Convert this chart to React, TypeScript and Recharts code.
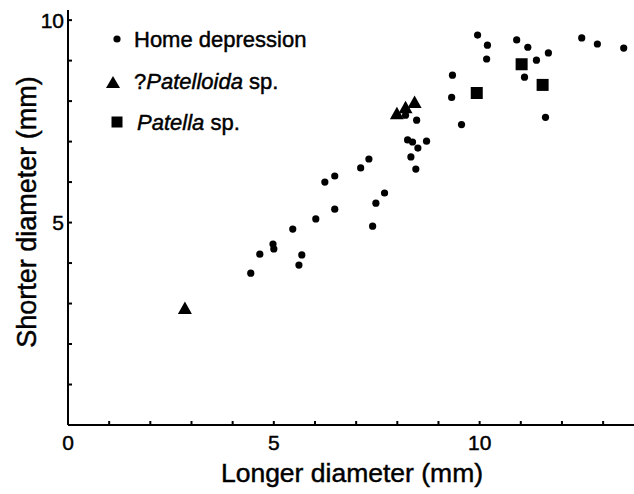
import React from 'react';
import { ScatterChart, Scatter, XAxis, YAxis, Legend } from 'recharts';

const FONT = '"Liberation Sans", Arial, Helvetica, sans-serif';
const TXT = { fontFamily: FONT, fill: '#000', stroke: '#000', strokeWidth: 0.45 } as const;

// Home depression (dots)
const homeLonger = [
  4.44, 4.66, 4.98, 5.0, 5.46, 5.61, 5.68, 6.02, 6.24, 6.48,
  6.48, 7.11, 7.31, 7.4, 7.48, 7.69, 8.2, 8.47, 8.25, 8.37,
  8.71, 8.5, 8.33, 8.45, 9.32, 9.34, 9.56, 9.95, 10.19, 10.17,
  10.9, 11.17, 11.67, 11.38, 11.09, 11.6, 12.48, 12.86, 13.5,
];
const homeShorter = [
  3.75, 4.22, 4.47, 4.35, 4.84, 3.95, 4.2, 5.09, 6.0, 6.15,
  5.33, 6.35, 6.57, 4.91, 5.48, 5.73, 7.65, 7.53, 7.04, 6.99,
  7.01, 6.84, 6.62, 6.32, 8.09, 8.64, 7.42, 9.63, 9.38, 9.04,
  9.51, 9.33, 9.19, 9.01, 8.59, 7.6, 9.56, 9.41, 9.31,
];

// ?Patelloida sp. (triangles)
const patelloidaLonger = [2.84, 7.99, 8.2, 8.42];
const patelloidaShorter = [2.89, 7.7, 7.85, 7.98];

// Patella sp. (squares)
const patellaLonger = [9.93, 11.02, 11.53];
const patellaShorter = [8.2, 8.91, 8.4];

const xTicks = [0, 1, 2, 3, 4, 5, 6, 7, 8, 9, 10, 11, 12, 13];
const yTicks = [0, 1, 2, 3, 4, 5, 6, 7, 8, 9, 10];
const xLabeledTicks = [0, 5, 10];
const yLabeledTicks = [5, 10];

const zip = (xs: number[], ys: number[]) => xs.map((x, i) => ({ x, y: ys[i] }));

const homeData = zip(homeLonger, homeShorter);
const patelloidaData = zip(patelloidaLonger, patelloidaShorter);
const patellaData = zip(patellaLonger, patellaShorter);

const XTick = (props: any) => {
  const { x, y, payload } = props;
  const v = payload.value;
  return (
    <g>
      {v !== 0 && <line x1={x} y1={y} x2={x} y2={y - 4} stroke="#000" strokeWidth={2} />}
      {xLabeledTicks.includes(v) && (
        <text x={x} y={y + 25} textAnchor="middle" fontSize={21} {...TXT}>
          {v}
        </text>
      )}
    </g>
  );
};

const YTick = (props: any) => {
  const { x, y, payload } = props;
  const v = payload.value;
  return (
    <g>
      {v !== 0 && <line x1={x} y1={y} x2={x + 4} y2={y} stroke="#000" strokeWidth={2} />}
      {yLabeledTicks.includes(v) && (
        <text x={x - 4} y={y + 7.5} textAnchor="end" fontSize={21} {...TXT}>
          {v}
        </text>
      )}
    </g>
  );
};

const Dot = (props: any) => <circle cx={props.cx} cy={props.cy} r={3.6} fill="#000" />;
const Tri = (props: any) => {
  const { cx, cy } = props;
  return <polygon points={`${cx - 7},${cy + 6} ${cx + 7},${cy + 6} ${cx},${cy - 6.5}`} fill="#000" />;
};
const Sq = (props: any) => {
  const { cx, cy } = props;
  return <rect x={cx - 6} y={cy - 6} width={12} height={12} fill="#000" />;
};

const LegendContent = () => (
  <svg width={320} height={150} style={{ display: 'block' }}>
    <circle cx={117} cy={39} r={3.6} fill="#000" />
    <text x={134} y={47} fontSize={22} {...TXT}>Home depression</text>
    <polygon points="106,88 120,88 113,76" fill="#000" />
    <text x={134} y={89} fontSize={22} {...TXT}>
      ?<tspan fontStyle="italic">Patelloida</tspan> sp.
    </text>
    <rect x={111.5} y={116.5} width={11} height={11} fill="#000" />
    <text x={137} y={130} fontSize={22} {...TXT}>
      <tspan fontStyle="italic">Patella</tspan> sp.
    </text>
  </svg>
);

export default function App() {
  return (
    <div style={{ position: 'absolute', left: 0, top: 0, background: '#fff' }}>
      <ScatterChart width={634} height={494} margin={{ top: 10, right: 0, bottom: 0, left: 0 }}>
        <XAxis
          type="number"
          dataKey="x"
          domain={[0, 13.75]}
          ticks={xTicks}
          interval={0}
          height={69}
          tickSize={0}
          tickMargin={0}
          tick={<XTick />}
          axisLine={{ stroke: '#000', strokeWidth: 2 }}
          tickLine={false}
          allowDataOverflow
          label={() => (
            <text x={352} y={482} textAnchor="middle" fontSize={26.5} {...TXT}>
              Longer diameter (mm)
            </text>
          )}
        />
        <YAxis
          type="number"
          dataKey="y"
          domain={[0, 10.25]}
          ticks={yTicks}
          interval={0}
          width={68}
          tickSize={0}
          tickMargin={0}
          tick={<YTick />}
          axisLine={{ stroke: '#000', strokeWidth: 2 }}
          tickLine={false}
          allowDataOverflow
          label={() => (
            <text
              x={36}
              y={212}
              transform="rotate(-90, 36, 212)"
              textAnchor="middle"
              fontSize={27}
              {...TXT}
            >
              Shorter diameter (mm)
            </text>
          )}
        />
        <Legend
          layout="horizontal"
          verticalAlign="middle"
          align="center"
          wrapperStyle={{ left: 0, top: 0, width: 320, height: 150 }}
          content={LegendContent}
        />
        <Scatter name="Home depression" data={homeData} shape={Dot} isAnimationActive={false} />
        <Scatter name="?Patelloida sp." data={patelloidaData} shape={Tri} isAnimationActive={false} />
        <Scatter name="Patella sp." data={patellaData} shape={Sq} isAnimationActive={false} />
      </ScatterChart>
    </div>
  );
}
